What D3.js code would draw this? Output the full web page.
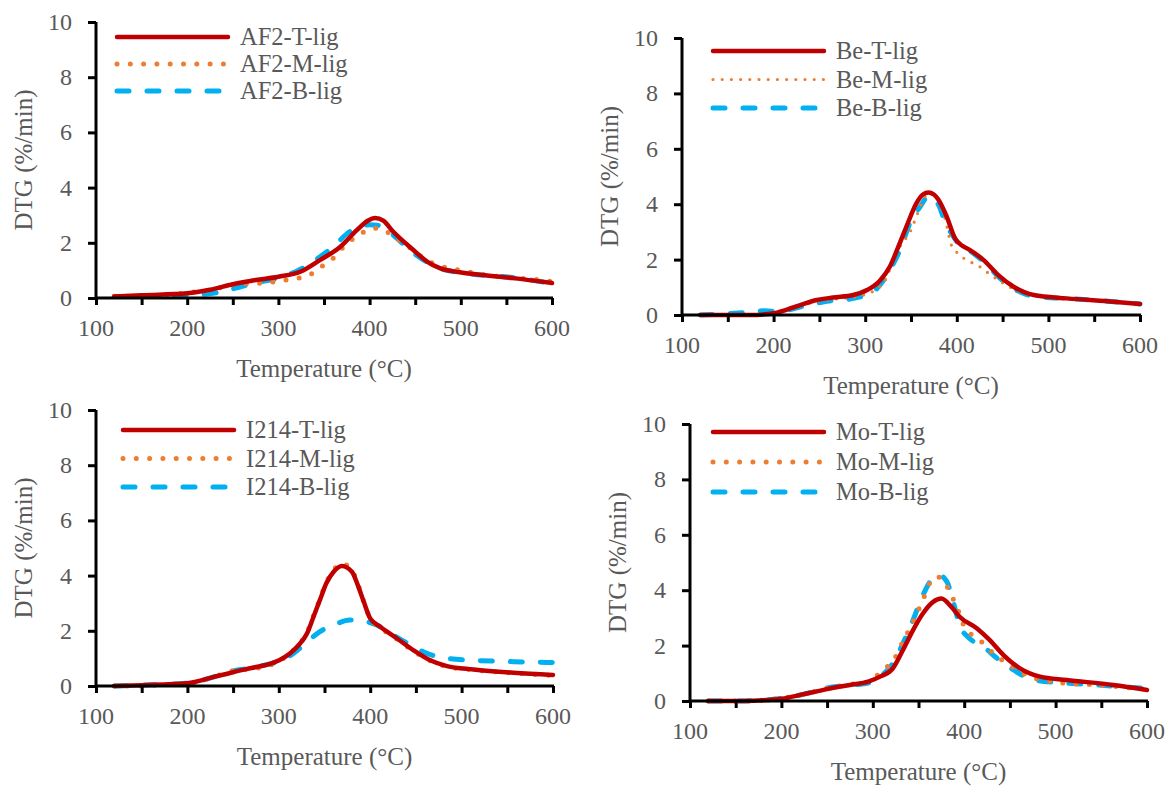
<!DOCTYPE html>
<html>
<head>
<meta charset="utf-8">
<script src="https://cdn.jsdelivr.net/npm/d3@7"></script>
<style>
  body { margin: 0; background: #fff; }
</style>
</head>
<body>
<div id="graph"></div>
<script>
// temperature (°C), DTG (%/min)
var af2T = [[120,0.05],[150,0.1],[200,0.17],[225,0.3],[250,0.5],[275,0.65],[300,0.77],[324,0.95],[346,1.38],[368,1.86],[386,2.46],[398,2.8],[406,2.9],[415,2.8],[426,2.4],[448,1.74],[463,1.32],[477,1.08],[499,0.93],[521,0.84],[557,0.72],[600,0.54]];
var af2M = [[120,0.06],[173,0.11],[201,0.19],[228,0.31],[254,0.5],[270,0.52],[296,0.59],[310,0.66],[322,0.72],[335,0.85],[346,1.11],[355,1.32],[364,1.56],[371,1.84],[380,2.1],[391,2.34],[400,2.5],[407,2.53],[415,2.46],[426,2.25],[437,1.98],[446,1.78],[459,1.44],[474,1.2],[499,1.01],[524,0.85],[552,0.75],[579,0.68],[600,0.6]];
var af2B = [[120,0.05],[200,0.1],[228,0.17],[250,0.33],[275,0.55],[298,0.71],[309,0.83],[320,0.97],[338,1.32],[360,1.86],[378,2.4],[391,2.61],[400,2.65],[408,2.64],[418,2.5],[430,2.16],[451,1.56],[477,1.08],[510,0.88],[557,0.74],[600,0.53]];

var beT = [[120,0],[174,0],[200,0.06],[229,0.36],[247,0.54],[265,0.63],[287,0.72],[302,0.9],[316,1.24],[327,1.75],[336,2.45],[345,3.19],[356,4.04],[363,4.35],[369,4.42],[375,4.35],[380,4.16],[389,3.55],[398,2.77],[406,2.5],[414,2.35],[429,1.99],[445,1.45],[462,1.02],[484,0.72],[520,0.6],[571,0.48],[600,0.4]];
var beM = [[120,0],[174,0],[200,0.05],[236,0.4],[260,0.55],[280,0.62],[298,0.72],[320,1.15],[331,1.99],[338,2.47],[349,3.0],[358,3.73],[365,4.25],[369,4.4],[374,4.35],[380,4.1],[387,3.5],[394,2.53],[401,2.23],[414,1.93],[422,1.81],[435,1.5],[451,1.14],[465,0.9],[487,0.68],[520,0.6],[571,0.48],[600,0.4]];
var beB = [[120,0],[150,0.05],[175,0.1],[190,0.15],[205,0.12],[230,0.3],[260,0.5],[287,0.6],[309,0.84],[316,1.08],[327,1.63],[338,2.35],[349,3.32],[360,3.91],[369,4.28],[380,3.98],[387,3.37],[394,2.95],[403,2.53],[418,2.23],[433,1.81],[447,1.33],[465,0.9],[487,0.66],[520,0.6],[571,0.48],[600,0.4]];

var i214T = [[120,0],[150,0.03],[200,0.1],[228,0.32],[250,0.5],[270,0.65],[290,0.8],[301,0.94],[320,1.42],[331,1.91],[338,2.51],[345,3.12],[352,3.72],[360,4.14],[369,4.35],[380,4.14],[387,3.6],[393,3.05],[400,2.45],[411,2.15],[429,1.73],[447,1.3],[465,0.94],[484,0.72],[513,0.6],[557,0.48],[600,0.4]];
var i214M = [[120,0],[145,0],[175,0.05],[200,0.08],[230,0.35],[250,0.55],[270,0.62],[290,0.75],[305,1.0],[320,1.45],[331,1.95],[338,2.55],[345,3.15],[352,3.75],[360,4.2],[368,4.44],[378,4.3],[387,3.65],[393,3.05],[400,2.45],[411,2.12],[429,1.7],[447,1.28],[465,0.92],[484,0.7],[513,0.58],[557,0.47],[600,0.38]];
var i214B = [[120,0],[150,0.03],[200,0.1],[228,0.32],[250,0.55],[270,0.65],[290,0.8],[301,0.9],[316,1.18],[331,1.6],[345,1.97],[360,2.21],[378,2.39],[389,2.37],[407,2.21],[425,1.85],[444,1.49],[458,1.24],[484,1.0],[520,0.92],[557,0.88],[600,0.85]];

var moT = [[120,0],[150,0],[175,0.02],[200,0.08],[225,0.25],[250,0.43],[275,0.58],[295,0.7],[308,0.88],[322,1.18],[333,1.84],[344,2.56],[355,3.17],[366,3.58],[375,3.7],[386,3.4],[395,3.04],[414,2.62],[428,2.2],[443,1.66],[461,1.18],[483,0.88],[512,0.76],[563,0.58],[600,0.4]];
var moM = [[120,0],[150,0],[175,0.02],[200,0.1],[225,0.25],[250,0.45],[275,0.6],[295,0.7],[311,1.12],[322,1.44],[333,2.14],[344,2.86],[354,3.58],[363,4.3],[370,4.49],[377,4.35],[385,3.89],[394,3.22],[401,2.62],[412,2.32],[421,2.08],[432,1.72],[447,1.36],[468,0.94],[505,0.66],[545,0.58],[600,0.42]];
var moB = [[120,0],[150,0],[175,0.02],[200,0.1],[225,0.25],[250,0.47],[279,0.58],[295,0.65],[308,0.88],[322,1.36],[333,2.08],[344,2.92],[355,3.83],[364,4.37],[372,4.55],[381,4.31],[388,3.58],[395,2.74],[406,2.26],[421,1.96],[436,1.54],[454,1.12],[476,0.76],[505,0.66],[545,0.58],[596,0.46]];

var xTicks = [100, 200, 300, 400, 500, 600];
var yTicks = [0, 2, 4, 6, 8, 10];
var xTitle = "Temperature (\u00B0C)",
    yTitle = "DTG (%/min)";

var colors = {T: "#C00000", M: "#ED7D31", B: "#00B0F0"};
var font = "'Liberation Serif', 'Times New Roman', Times, serif";

// plot boxes in page pixels
var panels = [
  {names: ["AF2-T-lig", "AF2-M-lig", "AF2-B-lig"], data: [af2T, af2M, af2B],
   left: 96, right: 552, top: 22, bottom: 298, legX: 117, legY: 37, legStep: 27, fineDots: false},
  {names: ["Be-T-lig", "Be-M-lig", "Be-B-lig"], data: [beT, beM, beB],
   left: 682, right: 1140, top: 38, bottom: 315, legX: 713, legY: 51, legStep: 28.5, fineDots: true},
  {names: ["I214-T-lig", "I214-M-lig", "I214-B-lig"], data: [i214T, i214M, i214B],
   left: 96, right: 553, top: 410, bottom: 686, legX: 123, legY: 430, legStep: 28.5, fineDots: false},
  {names: ["Mo-T-lig", "Mo-M-lig", "Mo-B-lig"], data: [moT, moM, moB],
   left: 690, right: 1147, top: 424, bottom: 701, legX: 713, legY: 432, legStep: 30, fineDots: false}
];

var svg = d3.select("#graph").append("svg")
    .attr("width", 1167)
    .attr("height", 786);

function txt(sel, size) {
  sel.attr("font-family", font)
     .attr("font-size", size)
     .attr("fill", "#595959");
}

function styleLine(sel, key, fine) {
  sel.attr("fill", "none")
     .attr("stroke", colors[key])
     .attr("stroke-linecap", "round")
     .attr("stroke-linejoin", "round");
  if (key === "T") {
    sel.attr("stroke-width", 4.5);
  } else if (key === "M") {
    sel.attr("stroke-width", fine ? 3.2 : 5)
       .attr("stroke-dasharray", fine ? "0 9.2" : "0 13.3");
  } else {
    sel.attr("stroke-width", 5)
       .attr("stroke-dasharray", "12 18");
  }
}

function drawPanel(p) {
  var x = d3.scaleLinear().domain([100, 600]).range([p.left, p.right]),
      y = d3.scaleLinear().domain([0, 10]).range([p.bottom, p.top]);
  var g = svg.append("g");

  var line = d3.line()
      .x(function(d) { return x(d[0]); })
      .y(function(d) { return y(d[1]); })
      .curve(d3.curveMonotoneX);

  // B first, then M, then T on top
  [2, 1, 0].forEach(function(i) {
    var key = ["T", "M", "B"][i];
    g.append("path")
      .datum(p.data[i])
      .attr("d", line)
      .call(styleLine, key, p.fineDots);
  });

  // x axis
  var xAxis = g.append("g")
      .attr("transform", "translate(0," + p.bottom + ")")
      .call(d3.axisBottom(x).tickValues(d3.range(100, 601, 50)).tickSize(7).tickFormat(""));
  xAxis.select(".domain").attr("stroke", "#000").attr("stroke-width", 3).attr("d", "M" + (p.left - 1) + ",0H" + (p.right + 1));
  xAxis.selectAll(".tick line").attr("stroke", "#000").attr("stroke-width", 3);

  g.selectAll(".xlab")
    .data(xTicks)
    .enter().append("text")
      .attr("x", function(d) { return x(d); })
      .attr("y", p.bottom + 38)
      .attr("text-anchor", "middle")
      .call(txt, 24)
      .text(function(d) { return d; });

  // y axis
  var yAxis = g.append("g")
      .attr("transform", "translate(" + p.left + ",0)")
      .call(d3.axisLeft(y).tickValues(yTicks).tickSize(8).tickFormat(""));
  yAxis.select(".domain").attr("stroke", "#000").attr("stroke-width", 3).attr("d", "M0," + (p.top) + "V" + (p.bottom + 1));
  yAxis.selectAll(".tick line").attr("stroke", "#000").attr("stroke-width", 3);

  g.selectAll(".ylab")
    .data(yTicks)
    .enter().append("text")
      .attr("x", p.left - 24)
      .attr("y", function(d) { return y(d) + 8; })
      .attr("text-anchor", "end")
      .call(txt, 24)
      .text(function(d) { return d; });

  g.append("text")
    .attr("x", (p.left + p.right) / 2)
    .attr("y", p.bottom + 79)
    .attr("text-anchor", "middle")
    .call(txt, 25)
    .text(xTitle);

  g.append("text")
    .attr("transform", "translate(" + (p.left - 64) + "," + ((p.top + p.bottom) / 2) + ") rotate(-90)")
    .attr("text-anchor", "middle")
    .call(txt, 25)
    .text(yTitle);

  // legend
  ["T", "M", "B"].forEach(function(key, i) {
    var ly = p.legY + i * p.legStep;
    g.append("path")
      .attr("d", "M" + p.legX + "," + ly + "H" + (p.legX + 111))
      .call(styleLine, key, p.fineDots);
    g.append("text")
      .attr("x", p.legX + 123)
      .attr("y", ly + 8)
      .call(txt, 24.5)
      .text(p.names[i]);
  });
}

panels.forEach(drawPanel);
</script>
</body>
</html>
